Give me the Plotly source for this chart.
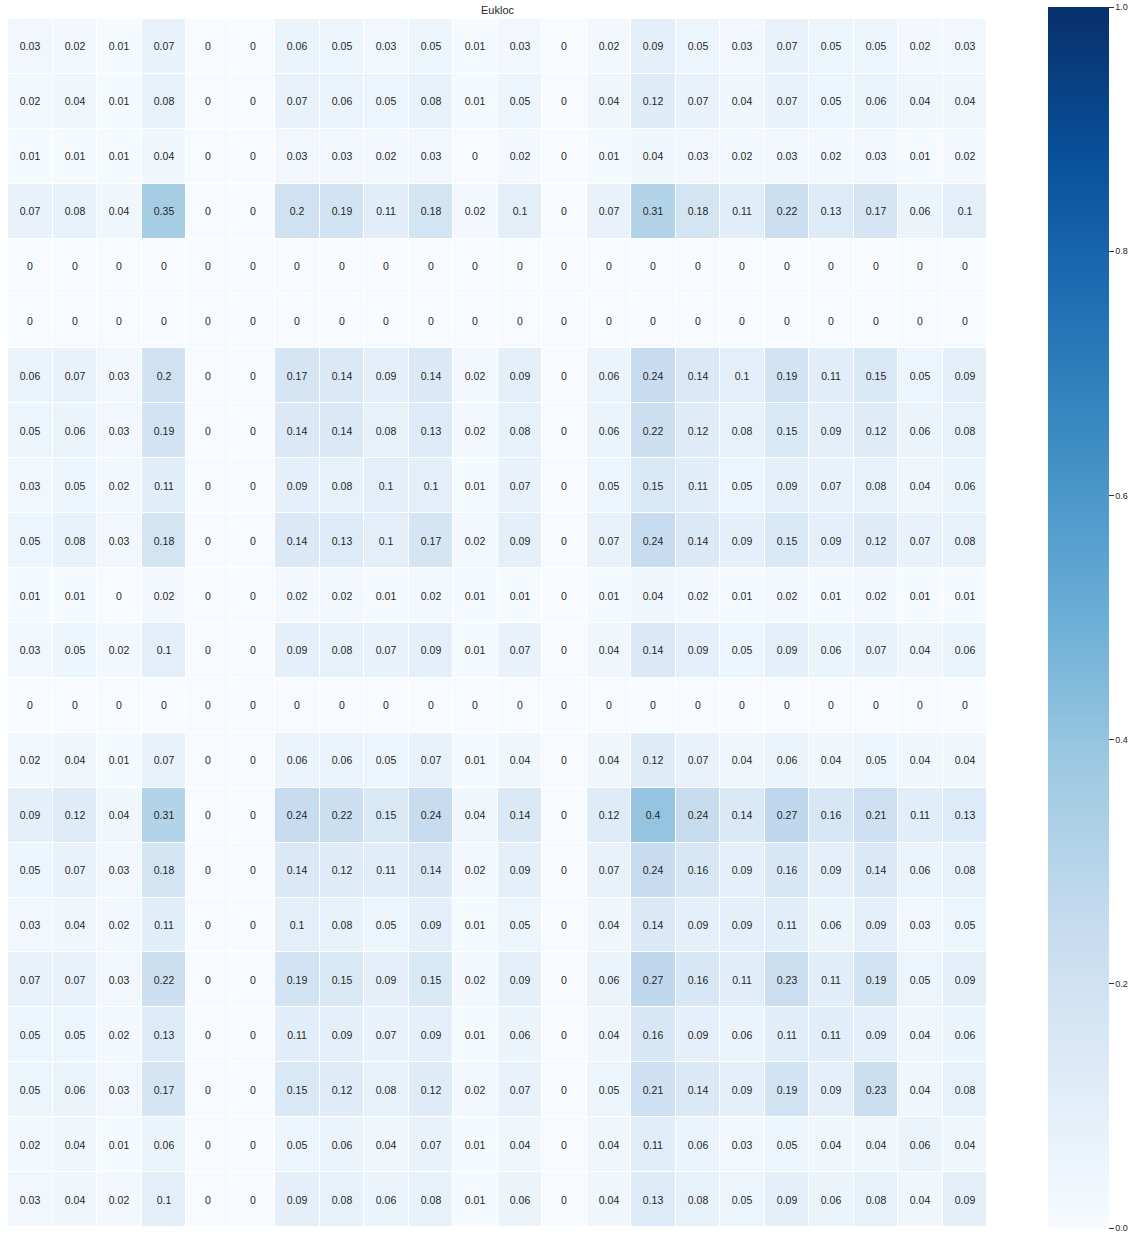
import plotly.graph_objects as go

row_labels = [str(i) for i in range(22)]
col_labels = [str(i) for i in range(22)]

r00 = [0.03, 0.02, 0.01, 0.07, 0, 0, 0.06, 0.05, 0.03, 0.05, 0.01, 0.03, 0, 0.02, 0.09, 0.05, 0.03, 0.07, 0.05, 0.05, 0.02, 0.03]
r01 = [0.02, 0.04, 0.01, 0.08, 0, 0, 0.07, 0.06, 0.05, 0.08, 0.01, 0.05, 0, 0.04, 0.12, 0.07, 0.04, 0.07, 0.05, 0.06, 0.04, 0.04]
r02 = [0.01, 0.01, 0.01, 0.04, 0, 0, 0.03, 0.03, 0.02, 0.03, 0, 0.02, 0, 0.01, 0.04, 0.03, 0.02, 0.03, 0.02, 0.03, 0.01, 0.02]
r03 = [0.07, 0.08, 0.04, 0.35, 0, 0, 0.2, 0.19, 0.11, 0.18, 0.02, 0.1, 0, 0.07, 0.31, 0.18, 0.11, 0.22, 0.13, 0.17, 0.06, 0.1]
r04 = [0] * 22
r05 = [0] * 22
r06 = [0.06, 0.07, 0.03, 0.2, 0, 0, 0.17, 0.14, 0.09, 0.14, 0.02, 0.09, 0, 0.06, 0.24, 0.14, 0.1, 0.19, 0.11, 0.15, 0.05, 0.09]
r07 = [0.05, 0.06, 0.03, 0.19, 0, 0, 0.14, 0.14, 0.08, 0.13, 0.02, 0.08, 0, 0.06, 0.22, 0.12, 0.08, 0.15, 0.09, 0.12, 0.06, 0.08]
r08 = [0.03, 0.05, 0.02, 0.11, 0, 0, 0.09, 0.08, 0.1, 0.1, 0.01, 0.07, 0, 0.05, 0.15, 0.11, 0.05, 0.09, 0.07, 0.08, 0.04, 0.06]
r09 = [0.05, 0.08, 0.03, 0.18, 0, 0, 0.14, 0.13, 0.1, 0.17, 0.02, 0.09, 0, 0.07, 0.24, 0.14, 0.09, 0.15, 0.09, 0.12, 0.07, 0.08]
r10 = [0.01, 0.01, 0, 0.02, 0, 0, 0.02, 0.02, 0.01, 0.02, 0.01, 0.01, 0, 0.01, 0.04, 0.02, 0.01, 0.02, 0.01, 0.02, 0.01, 0.01]
r11 = [0.03, 0.05, 0.02, 0.1, 0, 0, 0.09, 0.08, 0.07, 0.09, 0.01, 0.07, 0, 0.04, 0.14, 0.09, 0.05, 0.09, 0.06, 0.07, 0.04, 0.06]
r12 = [0] * 22
r13 = [0.02, 0.04, 0.01, 0.07, 0, 0, 0.06, 0.06, 0.05, 0.07, 0.01, 0.04, 0, 0.04, 0.12, 0.07, 0.04, 0.06, 0.04, 0.05, 0.04, 0.04]
r14 = [0.09, 0.12, 0.04, 0.31, 0, 0, 0.24, 0.22, 0.15, 0.24, 0.04, 0.14, 0, 0.12, 0.4, 0.24, 0.14, 0.27, 0.16, 0.21, 0.11, 0.13]
r15 = [0.05, 0.07, 0.03, 0.18, 0, 0, 0.14, 0.12, 0.11, 0.14, 0.02, 0.09, 0, 0.07, 0.24, 0.16, 0.09, 0.16, 0.09, 0.14, 0.06, 0.08]
r16 = [0.03, 0.04, 0.02, 0.11, 0, 0, 0.1, 0.08, 0.05, 0.09, 0.01, 0.05, 0, 0.04, 0.14, 0.09, 0.09, 0.11, 0.06, 0.09, 0.03, 0.05]
r17 = [0.07, 0.07, 0.03, 0.22, 0, 0, 0.19, 0.15, 0.09, 0.15, 0.02, 0.09, 0, 0.06, 0.27, 0.16, 0.11, 0.23, 0.11, 0.19, 0.05, 0.09]
r18 = [0.05, 0.05, 0.02, 0.13, 0, 0, 0.11, 0.09, 0.07, 0.09, 0.01, 0.06, 0, 0.04, 0.16, 0.09, 0.06, 0.11, 0.11, 0.09, 0.04, 0.06]
r19 = [0.05, 0.06, 0.03, 0.17, 0, 0, 0.15, 0.12, 0.08, 0.12, 0.02, 0.07, 0, 0.05, 0.21, 0.14, 0.09, 0.19, 0.09, 0.23, 0.04, 0.08]
r20 = [0.02, 0.04, 0.01, 0.06, 0, 0, 0.05, 0.06, 0.04, 0.07, 0.01, 0.04, 0, 0.04, 0.11, 0.06, 0.03, 0.05, 0.04, 0.04, 0.06, 0.04]
r21 = [0.03, 0.04, 0.02, 0.1, 0, 0, 0.09, 0.08, 0.06, 0.08, 0.01, 0.06, 0, 0.04, 0.13, 0.08, 0.05, 0.09, 0.06, 0.08, 0.04, 0.09]

z = [r00, r01, r02, r03, r04, r05, r06, r07, r08, r09, r10,
     r11, r12, r13, r14, r15, r16, r17, r18, r19, r20, r21]
text = [[f"{v:g}" for v in row] for row in z]

cbar_vals = [0, 0.2, 0.4, 0.6, 0.8, 1.0]
cbar_text = ["0.0", "0.2", "0.4", "0.6", "0.8", "1.0"]

blues = [
    [0.0, "#f7fbff"], [0.125, "#deebf7"], [0.25, "#c6dbef"], [0.375, "#9ecae1"],
    [0.5, "#6baed6"], [0.625, "#4292c6"], [0.75, "#2171b5"], [0.875, "#08519c"],
    [1.0, "#08306b"],
]

W, H = 1134, 1235
ml, mr, mt, mb = 8, 147, 19, 8
pw = W - ml - mr
ph = H - mt - mb

fig = go.Figure(go.Heatmap(
    z=z, x=col_labels, y=row_labels,
    text=text, texttemplate="%{text}",
    textfont=dict(family="Liberation Sans, Arial, sans-serif", size=10.5, color="#262626"),
    colorscale=blues, zmin=0, zmax=1,
    xgap=1, ygap=1,
    colorbar=dict(
        thickness=61, thicknessmode="pixels",
        len=1221, lenmode="pixels",
        x=(1048 - ml) / pw, xanchor="left", xpad=0,
        y=((H - 617.5) - mb) / ph, yanchor="middle", ypad=0,
        outlinewidth=0,
        tickmode="array",
        tickvals=cbar_vals,
        ticktext=cbar_text,
        ticks="outside", ticklen=5, tickwidth=1, tickcolor="#333333",
        tickfont=dict(family="Liberation Sans, Arial, sans-serif", size=9, color="#262626"),
    ),
    hoverinfo="skip",
))

fig.update_layout(
    width=W, height=H,
    margin=dict(l=ml, r=mr, t=mt, b=mb, autoexpand=False),
    paper_bgcolor="white", plot_bgcolor="white",
    title=dict(text="Eukloc", x=(ml + pw / 2) / W, xanchor="center",
               y=1 - 10 / H, yanchor="middle",
               font=dict(family="Liberation Sans, Arial, sans-serif", size=11, color="#262626")),
    xaxis=dict(showticklabels=False, showgrid=False, zeroline=False, ticks=""),
    yaxis=dict(showticklabels=False, showgrid=False, zeroline=False, ticks="", autorange="reversed"),
)

fig.write_html(
    "out.html",
    config={"displayModeBar": False},
    post_script="document.body.style.margin='0';document.body.style.overflow='hidden';",
)
